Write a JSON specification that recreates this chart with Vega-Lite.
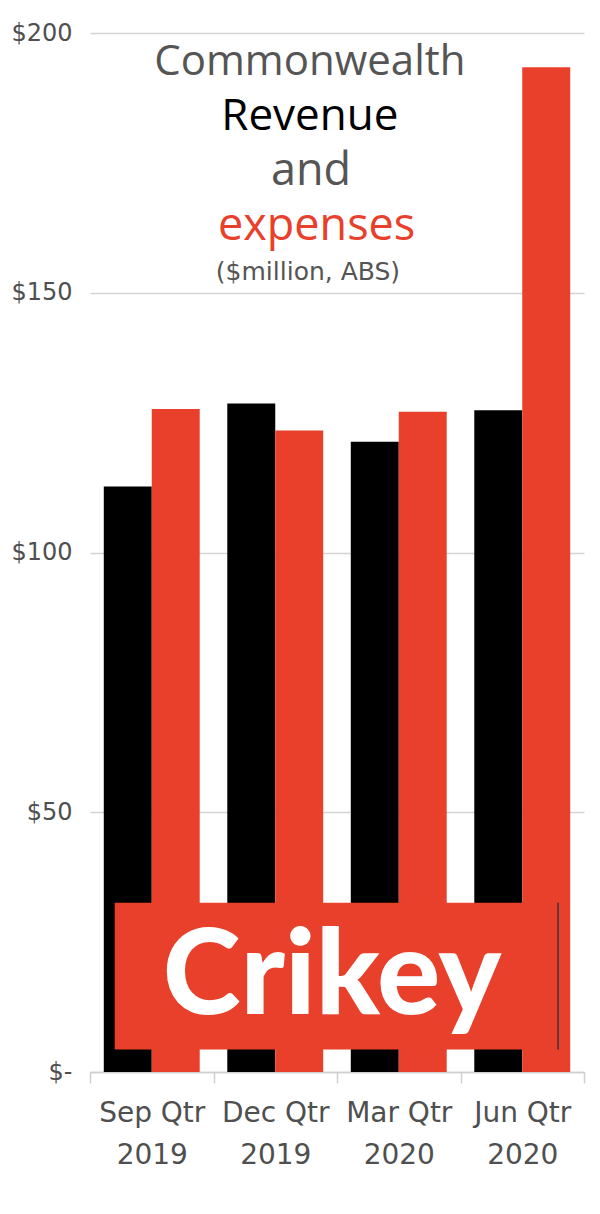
{
  "$schema": "https://vega.github.io/schema/vega-lite/v6.json",
  "autosize": "none",
  "width": 494,
  "height": 1039,
  "padding": {"left": 90, "top": 33, "right": 16, "bottom": 142},
  "background": "white",
  "data": {
    "values": [
      {"quarter": "Sep Qtr 2019", "series": "Revenue", "value": 112.7},
      {"quarter": "Sep Qtr 2019", "series": "Expenses", "value": 127.6},
      {"quarter": "Dec Qtr 2019", "series": "Revenue", "value": 128.7},
      {"quarter": "Dec Qtr 2019", "series": "Expenses", "value": 123.5},
      {"quarter": "Mar Qtr 2020", "series": "Revenue", "value": 121.3},
      {"quarter": "Mar Qtr 2020", "series": "Expenses", "value": 127.1},
      {"quarter": "Jun Qtr 2020", "series": "Revenue", "value": 127.4},
      {"quarter": "Jun Qtr 2020", "series": "Expenses", "value": 193.4}
    ]
  },
  "layer": [
    {
      "mark": {"type": "bar"},
      "encoding": {
        "x": {
          "field": "quarter",
          "type": "nominal",
          "scale": {"domain": ["Sep Qtr 2019", "Dec Qtr 2019", "Mar Qtr 2020", "Jun Qtr 2020"], "paddingInner": 0, "paddingOuter": 0},
          "axis": {
            "title": null,
            "labelAngle": 0,
            "tickBand": "extent",
            "domainColor": "#cfcfcf",
            "domainWidth": 1.5,
            "tickColor": "#cfcfcf",
            "tickWidth": 1.5,
            "tickSize": 11,
            "labelFont": "DejaVu Sans",
            "labelFontSize": 28,
            "labelColor": "#4f4f4f",
            "labelPadding": 16,
            "labelLineHeight": 42,
            "labelExpr": "[slice(datum.label, 0, 7), slice(datum.label, 8)]",
            "grid": false
          }
        },
        "xOffset": {
          "field": "series",
          "type": "nominal",
          "sort": ["Revenue", "Expenses"],
          "scale": {"paddingInner": 0, "paddingOuter": 0.2875}
        },
        "y": {
          "field": "value",
          "type": "quantitative",
          "scale": {"domain": [0, 200], "nice": false},
          "axis": {
            "title": null,
            "values": [0, 50, 100, 150, 200],
            "labelExpr": "datum.value == 0 ? '$-' : '$' + datum.value",
            "domain": false,
            "ticks": false,
            "tickSize": 0,
            "grid": true,
            "gridColor": "#d4d4d4",
            "gridWidth": 1.5,
            "labelFont": "DejaVu Sans",
            "labelFontSize": 24,
            "labelColor": "#4f4f4f",
            "labelPadding": 18
          }
        },
        "color": {
          "field": "series",
          "type": "nominal",
          "scale": {"domain": ["Revenue", "Expenses"], "range": ["#000000", "#e8402a"]},
          "legend": null
        }
      }
    },
    {
      "data": {"values": [{"t": "logo"}]},
      "mark": {"type": "rect", "color": "#e8402a"},
      "encoding": {
        "x": {"datum": "Sep Qtr 2019", "type": "nominal", "bandPosition": 0.2},
        "x2": {"datum": "Jun Qtr 2020", "bandPosition": 0.79},
        "y": {"datum": 32.6, "type": "quantitative"},
        "y2": {"datum": 4.33}
      }
    },
    {
      "data": {"values": [{"t": "edge"}]},
      "mark": {"type": "rule", "color": "#333333", "strokeWidth": 1.5},
      "encoding": {
        "x": {"datum": "Jun Qtr 2020", "type": "nominal", "bandPosition": 0.79},
        "y": {"datum": 32.6, "type": "quantitative"},
        "y2": {"datum": 4.33}
      }
    },
    {
      "data": {"values": [{"t": "Crikey"}]},
      "mark": {"type": "text", "font": "Lato", "fontWeight": 900, "fontSize": 118, "color": "#ffffff", "baseline": "alphabetic", "align": "center"},
      "encoding": {
        "x": {"datum": "Dec Qtr 2019", "type": "nominal", "bandPosition": 0.96},
        "y": {"datum": 11.26, "type": "quantitative"},
        "text": {"field": "t"}
      }
    },
    {
      "data": {"values": [{"t": "Commonwealth"}]},
      "mark": {"type": "text", "font": "Open Sans", "fontSize": 42, "color": "#555555", "baseline": "alphabetic", "align": "center"},
      "encoding": {
        "x": {"datum": "Dec Qtr 2019", "type": "nominal", "bandPosition": 0.78},
        "y": {"datum": 192, "type": "quantitative"},
        "text": {"field": "t"}
      }
    },
    {
      "data": {"values": [{"t": "Revenue"}]},
      "mark": {"type": "text", "font": "Open Sans", "fontSize": 44, "color": "#000000", "baseline": "alphabetic", "align": "center"},
      "encoding": {
        "x": {"datum": "Dec Qtr 2019", "type": "nominal", "bandPosition": 0.78},
        "y": {"datum": 181.4, "type": "quantitative"},
        "text": {"field": "t"}
      }
    },
    {
      "data": {"values": [{"t": "and"}]},
      "mark": {"type": "text", "font": "Open Sans", "fontSize": 45, "color": "#555555", "baseline": "alphabetic", "align": "center"},
      "encoding": {
        "x": {"datum": "Dec Qtr 2019", "type": "nominal", "bandPosition": 0.79},
        "y": {"datum": 170.8, "type": "quantitative"},
        "text": {"field": "t"}
      }
    },
    {
      "data": {"values": [{"t": "expenses"}]},
      "mark": {"type": "text", "font": "Open Sans", "fontSize": 45, "color": "#e8402a", "baseline": "alphabetic", "align": "center"},
      "encoding": {
        "x": {"datum": "Dec Qtr 2019", "type": "nominal", "bandPosition": 0.835},
        "y": {"datum": 160.2, "type": "quantitative"},
        "text": {"field": "t"}
      }
    },
    {
      "data": {"values": [{"t": "($million, ABS)"}]},
      "mark": {"type": "text", "font": "DejaVu Sans", "fontSize": 25, "color": "#555555", "baseline": "alphabetic", "align": "center"},
      "encoding": {
        "x": {"datum": "Dec Qtr 2019", "type": "nominal", "bandPosition": 0.765},
        "y": {"datum": 152.5, "type": "quantitative"},
        "text": {"field": "t"}
      }
    }
  ],
  "config": {
    "view": {"stroke": null},
    "font": "Open Sans"
  }
}
